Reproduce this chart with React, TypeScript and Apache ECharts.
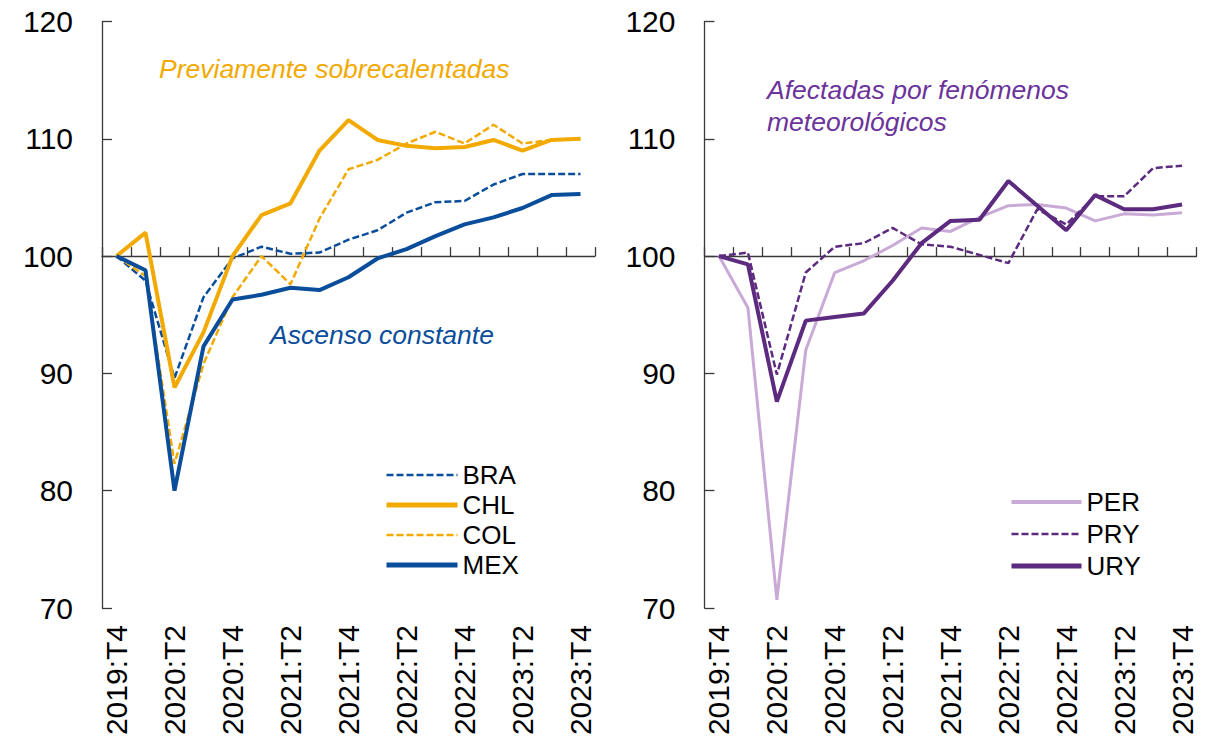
import React, { useEffect, useRef } from "react";
import * as echarts from "echarts";

const categories = [
  "2019:T4", "2020:T1", "2020:T2", "2020:T3", "2020:T4",
  "2021:T1", "2021:T2", "2021:T3", "2021:T4",
  "2022:T1", "2022:T2", "2022:T3", "2022:T4",
  "2023:T1", "2023:T2", "2023:T3", "2023:T4",
];

const BRA = [100, 97.9, 89.6, 96.5, 99.8, 100.8, 100.2, 100.3, 101.4, 102.2, 103.7, 104.6, 104.7, 106.1, 107.0, 107.0, 107.0];
const CHL = [100, 102.0, 88.8, 93.5, 100.0, 103.5, 104.5, 109.0, 111.6, 109.9, 109.4, 109.2, 109.3, 109.9, 109.0, 109.9, 110.0];
const COL = [100, 98.3, 82.3, 90.8, 96.5, 100.0, 97.6, 103.2, 107.4, 108.2, 109.6, 110.6, 109.6, 111.2, 109.6, 109.9, 110.0];
const MEX = [100, 98.8, 80.0, 92.3, 96.3, 96.7, 97.3, 97.1, 98.2, 99.8, 100.6, 101.7, 102.7, 103.3, 104.1, 105.2, 105.3];

const PER = [100, 95.6, 70.7, 92.0, 98.6, 99.6, 100.9, 102.4, 102.1, 103.3, 104.3, 104.4, 104.1, 103.0, 103.6, 103.5, 103.7];
const PRY = [100, 100.3, 89.9, 98.6, 100.8, 101.1, 102.4, 101.0, 100.8, 100.1, 99.4, 104.0, 102.7, 105.1, 105.1, 107.5, 107.7];
const URY = [100, 99.3, 87.6, 94.5, 94.8, 95.1, 97.9, 101.1, 103.0, 103.1, 106.4, 104.3, 102.2, 105.2, 104.0, 104.0, 104.4];

const yMin = 70;
const yMax = 120;
const yStep = 10;
const baseLevel = 100;

const ORANGE = "#F2A900";
const BLUE = "#0A4D9B";
const DARK_PURPLE = "#5C2A7F";
const LIGHT_PURPLE = "#C9A9D6";
const TITLE_PURPLE = "#6C339A";
const AXIS = "#3a3a3a";
const FONT = "'Liberation Sans', Arial, sans-serif";

const SOLID_W = 4;
const DASH_W = 2.5;
const PER_W = 3;

export default function App() {
  const ref = useRef<HTMLDivElement>(null);

  useEffect(() => {
    document.body.style.margin = "0";
    if (!ref.current) return;
    const chart = echarts.init(ref.current, undefined, { renderer: "svg" });

    const gTop = 21.5;
    const gH = 586.5;
    const gW = 493;
    const leftL = 102;
    const rightL = 704.5;
    const baseH = gH * (yMax - baseLevel) / (yMax - yMin);

    const mainX = (gi: number) => ({
      type: "category",
      gridIndex: gi,
      data: categories,
      boundaryGap: true,
      axisLine: { show: false },
      axisTick: { show: false },
      axisLabel: {
        interval: 1,
        rotate: 90,
        fontSize: 30,
        color: "#000",
        fontFamily: FONT,
        margin: 17,
      },
    });
    const baseX = (gi: number) => ({
      type: "category",
      gridIndex: gi,
      data: categories,
      boundaryGap: true,
      axisLine: { show: true, lineStyle: { color: AXIS, width: 1.3 } },
      axisTick: { show: true, inside: true, length: 9, interval: 0, lineStyle: { color: AXIS, width: 1.3 } },
      axisLabel: { show: false },
    });
    const mainY = (gi: number) => ({
      type: "value",
      gridIndex: gi,
      min: yMin,
      max: yMax,
      interval: yStep,
      splitLine: { show: false },
      axisLine: { show: true, lineStyle: { color: AXIS, width: 1.3 } },
      axisTick: { show: true, inside: true, length: 10, lineStyle: { color: AXIS, width: 1.3 } },
      axisLabel: { fontSize: 30, color: "#000", fontFamily: FONT, margin: 29 },
    });
    const baseY = (gi: number) => ({
      type: "value",
      gridIndex: gi,
      min: 0,
      max: 1,
      show: false,
    });

    const dashType = [7, 3];
    const line = (name: string, data: number[], xi: number, color: string, width: number, dashed: boolean) => ({
      name,
      type: "line",
      xAxisIndex: xi,
      yAxisIndex: xi,
      data,
      symbol: "none",
      lineStyle: { color, width, type: dashed ? dashType : "solid" },
      itemStyle: { color },
      z: 3,
    });

    const legItem = (name: string, color: string, width: number, dashed: boolean) => ({
      name,
      itemStyle: { opacity: 0 },
      lineStyle: { color, width, type: dashed ? dashType : "solid", opacity: 1 },
    });

    chart.setOption({
      animation: false,
      grid: [
        { left: leftL, top: gTop, width: gW, height: gH },
        { left: rightL, top: gTop, width: gW - 1, height: gH },
        { left: leftL, top: gTop, width: gW, height: baseH },
        { left: rightL, top: gTop, width: gW - 1, height: baseH },
      ],
      xAxis: [mainX(0), mainX(1), baseX(2), baseX(3)],
      yAxis: [mainY(0), mainY(1), baseY(2), baseY(3)],
      legend: [
        {
          data: [
            legItem("BRA", BLUE, DASH_W, true),
            legItem("CHL", ORANGE, SOLID_W + 1, false),
            legItem("COL", ORANGE, DASH_W, true),
            legItem("MEX", BLUE, SOLID_W + 1, false),
          ],
          orient: "vertical",
          left: 379,
          top: 457,
          itemWidth: 71,
          itemHeight: 14,
          itemGap: 4,
          itemStyle: { opacity: 0 },
          textStyle: { fontSize: 26, color: "#000", fontFamily: FONT, lineHeight: 26 },
        },
        {
          data: [
            legItem("PER", LIGHT_PURPLE, PER_W + 1, false),
            legItem("PRY", DARK_PURPLE, DASH_W, true),
            legItem("URY", DARK_PURPLE, SOLID_W + 1, false),
          ],
          orient: "vertical",
          left: 1004,
          top: 484,
          itemWidth: 70,
          itemHeight: 14,
          itemGap: 6,
          itemStyle: { opacity: 0 },
          textStyle: { fontSize: 26, color: "#000", fontFamily: FONT, lineHeight: 26 },
        },
      ],
      series: [
        line("BRA", BRA, 0, BLUE, DASH_W, true),
        line("CHL", CHL, 0, ORANGE, SOLID_W, false),
        line("COL", COL, 0, ORANGE, DASH_W, true),
        line("MEX", MEX, 0, BLUE, SOLID_W, false),
        line("PER", PER, 1, LIGHT_PURPLE, PER_W, false),
        line("PRY", PRY, 1, DARK_PURPLE, DASH_W, true),
        line("URY", URY, 1, DARK_PURPLE, SOLID_W, false),
      ],
      graphic: [
        {
          type: "text",
          x: 159,
          y: 69,
          style: {
            text: "Previamente sobrecalentadas",
            fill: ORANGE,
            fontSize: 26.5,
            fontStyle: "italic",
            fontFamily: FONT,
            verticalAlign: "middle",
            align: "left",
          },
        },
        {
          type: "text",
          x: 270,
          y: 335,
          style: {
            text: "Ascenso constante",
            fill: BLUE,
            fontSize: 26.5,
            fontStyle: "italic",
            fontFamily: FONT,
            verticalAlign: "middle",
            align: "left",
          },
        },
        {
          type: "text",
          x: 767,
          y: 106,
          style: {
            text: "Afectadas por fenómenos\nmeteorológicos",
            fill: TITLE_PURPLE,
            fontSize: 26.5,
            lineHeight: 32,
            fontStyle: "italic",
            fontFamily: FONT,
            verticalAlign: "middle",
            align: "left",
          },
        },
      ],
    });

    return () => chart.dispose();
  }, []);

  return <div ref={ref} style={{ width: 1206, height: 747 }} />;
}
